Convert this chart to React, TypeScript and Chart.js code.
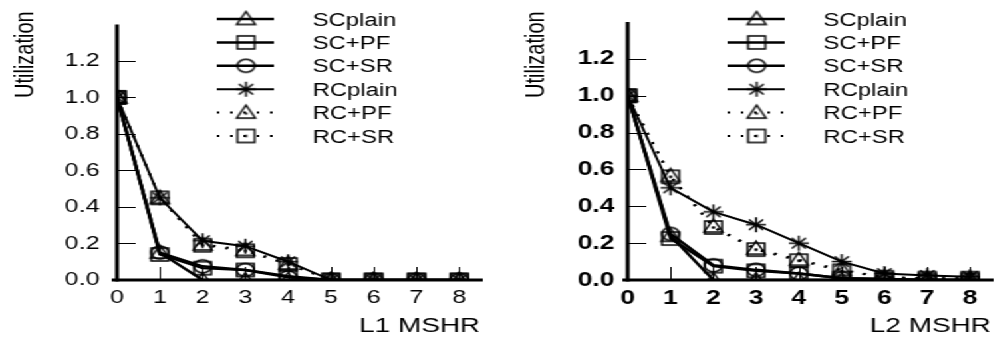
import React, { useEffect, useRef } from "react";
import { Chart, registerables } from "chart.js";

Chart.register(...registerables);

// ---- data ----
const xSteps = [0, 1, 2, 3, 4, 5, 6, 7, 8];
const yTicks = [0, 0.2, 0.4, 0.6, 0.8, 1.0, 1.2];
const seriesNames = ["SCplain", "SC+PF", "SC+SR", "RCplain", "RC+PF", "RC+SR"];

const l1SCplain = [1.0, 0.15, 0.0, 0.0, 0.0, 0.0, 0.0, 0.0, 0.0];
const l1SCPF = [1.0, 0.14, 0.065, 0.055, 0.02, 0.0, 0.0, 0.0, 0.0];
const l1SCSR = [1.0, 0.15, 0.075, 0.055, 0.015, 0.0, 0.0, 0.0, 0.0];
const l1RCplain = [1.0, 0.45, 0.215, 0.185, 0.1, 0.0, 0.0, 0.0, 0.0];
const l1RCPF = [1.0, 0.45, 0.195, 0.165, 0.09, 0.0, 0.0, 0.0, 0.0];
const l1RCSR = [1.0, 0.45, 0.19, 0.16, 0.085, 0.0, 0.0, 0.0, 0.0];

const l2SCplain = [1.0, 0.24, 0.0, 0.0, 0.0, 0.0, 0.0, 0.0, 0.0];
const l2SCPF = [1.0, 0.225, 0.075, 0.05, 0.035, 0.01, 0.005, 0.0, 0.0];
const l2SCSR = [1.0, 0.25, 0.08, 0.055, 0.035, 0.01, 0.005, 0.0, 0.0];
const l2RCplain = [1.0, 0.5, 0.37, 0.3, 0.2, 0.1, 0.035, 0.025, 0.018];
const l2RCPF = [1.0, 0.565, 0.29, 0.17, 0.11, 0.055, 0.015, 0.01, 0.01];
const l2RCSR = [1.0, 0.56, 0.285, 0.165, 0.105, 0.05, 0.015, 0.01, 0.01];

const yTitle = "Utilization";
const l1XTitle = "L1 MSHR";
const l2XTitle = "L2 MSHR";

// ---- styling ----
const STRETCH = 1.33;
const PANEL_W = 384;
const H = 341;
const FONT = "'Liberation Sans', Arial, Helvetica, sans-serif";
const markerKinds = ["triangle", "square", "circle", "star", "triangleDot", "squareDot"];
const dotted = [false, false, false, false, true, true];

function makeMarker(kind: string): HTMLCanvasElement {
  const c = document.createElement("canvas");
  c.width = 19;
  c.height = 19;
  const g = c.getContext("2d") as CanvasRenderingContext2D;
  const m = 9.5;
  g.strokeStyle = "#000";
  g.fillStyle = "#000";
  g.lineWidth = 1.5;
  g.beginPath();
  if (kind.startsWith("square")) {
    g.rect(m - 6.5, m - 6.5, 13, 13);
  } else if (kind.startsWith("triangle")) {
    g.moveTo(m, m - 7.5);
    g.lineTo(m + 7, m + 5.5);
    g.lineTo(m - 7, m + 5.5);
    g.closePath();
  } else if (kind === "circle") {
    g.arc(m, m, 6.5, 0, Math.PI * 2);
  } else if (kind === "star") {
    const r = 7.5;
    const d = 5.3;
    g.moveTo(m - r, m);
    g.lineTo(m + r, m);
    g.moveTo(m, m - r);
    g.lineTo(m, m + r);
    g.moveTo(m - d, m - d);
    g.lineTo(m + d, m + d);
    g.moveTo(m - d, m + d);
    g.lineTo(m + d, m - d);
  }
  g.stroke();
  if (kind.endsWith("Dot")) {
    const off = kind.startsWith("triangle") ? 1 : 0;
    g.fillRect(m - 1, m - 1 + off, 2, 2);
  }
  return c;
}

function buildChart(canvas: HTMLCanvasElement, series: number[][], xTitle: string, bold: boolean) {
  const markers = markerKinds.map(makeMarker);
  const tickSize = bold ? 20 : 19;
  const datasets = series.map((vals, i) => ({
    label: seriesNames[i],
    data: xSteps.map((x, j) => ({ x, y: vals[j] })),
    borderColor: "#000",
    backgroundColor: "#000",
    borderWidth: dotted[i] ? 2 : i === 3 ? 2 : 2.5,
    borderDash: dotted[i] ? [2, 8] : [],
    pointStyle: markers[i],
    pointRadius: 6,
    pointHoverRadius: 6,
    tension: 0,
    fill: false,
    clip: 0,
  }));

  const decor = {
    id: "decor",
    afterDraw(chart: any) {
      const { ctx, chartArea: a } = chart;
      const xs = chart.scales.x;
      const ys = chart.scales.y;
      ctx.save();
      ctx.strokeStyle = "#000";
      ctx.fillStyle = "#000";
      ctx.setLineDash([]);
      // inward ticks
      ctx.lineWidth = 1;
      for (const v of yTicks) {
        if (v === 0) continue;
        const py = Math.round(ys.getPixelForValue(v)) + 0.5;
        ctx.beginPath();
        ctx.moveTo(a.left - 1, py);
        ctx.lineTo(a.left + 14, py);
        ctx.stroke();
      }
      for (const v of xSteps) {
        if (v === 0) continue;
        const px = Math.round(xs.getPixelForValue(v)) + 0.5;
        ctx.beginPath();
        ctx.moveTo(px, a.bottom + 1);
        ctx.lineTo(px, a.bottom - 13);
        ctx.stroke();
      }
      // axes
      ctx.lineWidth = 3;
      ctx.beginPath();
      ctx.moveTo(a.left, a.top);
      ctx.lineTo(a.left, a.bottom + 1.5);
      ctx.stroke();
      ctx.beginPath();
      ctx.moveTo(a.left - 4, a.bottom);
      ctx.lineTo(a.right, a.bottom);
      ctx.stroke();
      // axis titles
      ctx.font = `21px ${FONT}`;
      ctx.textAlign = "right";
      ctx.textBaseline = "alphabetic";
      ctx.fillText(xTitle, 361, 331.5);
      ctx.save();
      ctx.translate(25, 98);
      ctx.rotate(-Math.PI / 2);
      ctx.font = `20px ${FONT}`;
      ctx.textAlign = "left";
      ctx.fillText(yTitle, 0, 0);
      ctx.restore();
      // legend
      ctx.font = `18px ${FONT}`;
      ctx.textAlign = "left";
      chart.data.datasets.forEach((ds: any, i: number) => {
        const y = 19 + i * 23.4;
        ctx.lineWidth = ds.borderWidth;
        ctx.setLineDash(ds.borderDash);
        ctx.beginPath();
        ctx.moveTo(163, y);
        ctx.lineTo(206, y);
        ctx.stroke();
        ctx.setLineDash([]);
        const mk = ds.pointStyle as HTMLCanvasElement;
        ctx.drawImage(mk, 185 - mk.width / 2, y - mk.height / 2);
        ctx.fillText(ds.label, 235, y + 6.5);
      });
      ctx.restore();
    },
  };

  return new Chart(canvas, {
    type: "line",
    data: { datasets },
    options: {
      animation: false,
      responsive: false,
      devicePixelRatio: 1,
      layout: { padding: { top: 10, right: 21, left: 0, bottom: 0 } },
      plugins: { legend: { display: false }, tooltip: { enabled: false } },
      events: [],
      scales: {
        x: {
          type: "linear",
          min: 0,
          max: 8.55,
          grid: { display: false, drawTicks: false },
          border: { display: false },
          afterBuildTicks: (s: any) => {
            s.ticks = xSteps.map((v) => ({ value: v }));
          },
          afterFit: (s: any) => {
            s.height = 61;
          },
          ticks: {
            color: "#000",
            font: { family: FONT, size: tickSize, weight: bold ? "bold" : "normal" },
            padding: 6,
            maxRotation: 0,
            autoSkip: false,
            callback: (v: any) => String(v),
          },
        },
        y: {
          type: "linear",
          min: 0,
          max: 1.4,
          grid: { display: false, drawTicks: false },
          border: { display: false },
          afterBuildTicks: (s: any) => {
            s.ticks = yTicks.map((v) => ({ value: v }));
          },
          afterFit: (s: any) => {
            s.width = 88;
          },
          ticks: {
            color: "#000",
            font: { family: FONT, size: tickSize, weight: bold ? "bold" : "normal" },
            padding: bold ? 10 : 13,
            autoSkip: false,
            callback: (v: any) => Number(v).toFixed(1),
          },
        },
      },
    },
    plugins: [decor],
  } as any);
}

export default function App() {
  const leftRef = useRef<HTMLCanvasElement>(null);
  const rightRef = useRef<HTMLCanvasElement>(null);

  useEffect(() => {
    const left = buildChart(
      leftRef.current as HTMLCanvasElement,
      [l1SCplain, l1SCPF, l1SCSR, l1RCplain, l1RCPF, l1RCSR],
      l1XTitle,
      false
    );
    const right = buildChart(
      rightRef.current as HTMLCanvasElement,
      [l2SCplain, l2SCPF, l2SCSR, l2RCplain, l2RCPF, l2RCSR],
      l2XTitle,
      true
    );
    return () => {
      left.destroy();
      right.destroy();
    };
  }, []);

  return (
    <div
      style={{
        position: "absolute",
        left: 0,
        top: 0,
        width: 995,
        height: H,
        overflow: "hidden",
        background: "#fff",
      }}
    >
      <div
        style={{
          position: "absolute",
          left: 0,
          top: 0,
          width: PANEL_W * 2,
          height: H,
          transform: `scaleX(${STRETCH})`,
          transformOrigin: "0 0",
        }}
      >
        <canvas ref={leftRef} width={PANEL_W} height={H} style={{ position: "absolute", left: 0, top: 0 }} />
        <canvas ref={rightRef} width={PANEL_W} height={H} style={{ position: "absolute", left: PANEL_W, top: 0 }} />
      </div>
    </div>
  );
}
